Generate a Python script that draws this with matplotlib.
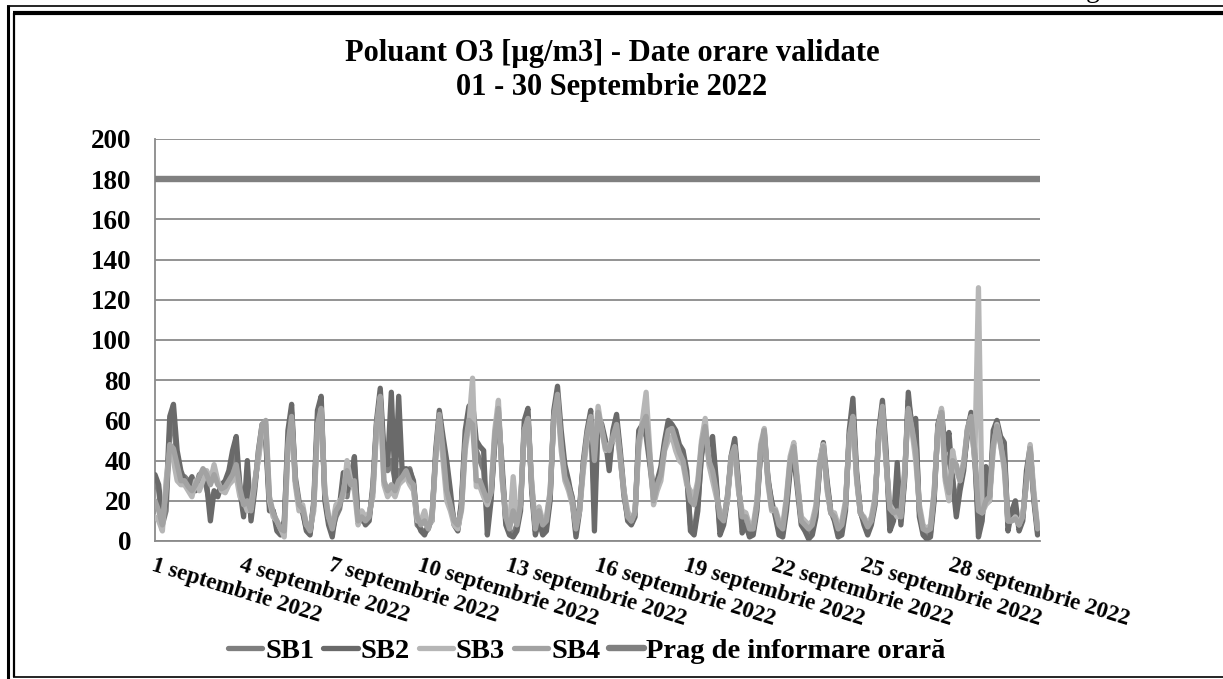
import matplotlib
matplotlib.use("Agg")
import matplotlib.pyplot as plt
from matplotlib.lines import Line2D
import pandas as pd

# valori la fiecare 3 ore (00, 03, ..., 21), o linie pe zi
sb1_zile = [
    [30, 25, 8, 15, 55, 60, 40, 32], [32, 30, 28, 27, 33, 34, 26, 18], [24, 24, 27, 28, 33, 40, 45, 28],
    [15, 30, 12, 28, 42, 56, 52, 18], [15, 8, 5, 10, 50, 64, 32, 20], [14, 6, 4, 18, 60, 68, 22, 10],
    [5, 12, 16, 28, 22, 35, 38, 12], [10, 10, 12, 25, 58, 72, 40, 35], [40, 30, 35, 30, 34, 36, 28, 8],
    [6, 4, 6, 12, 42, 62, 48, 30], [20, 10, 6, 18, 50, 62, 60, 45], [40, 35, 10, 22, 48, 62, 38, 10],
    [5, 3, 8, 18, 56, 62, 28, 5], [12, 5, 8, 22, 62, 72, 50, 35], [28, 22, 5, 18, 38, 52, 60, 20],
    [58, 55, 48, 40, 52, 60, 42, 22], [12, 9, 14, 50, 56, 52, 38, 22], [28, 35, 48, 56, 55, 52, 45, 42],
    [32, 8, 5, 18, 42, 52, 45, 48], [28, 6, 10, 22, 40, 48, 28, 8], [10, 4, 5, 18, 44, 52, 32, 18],
    [14, 5, 4, 18, 38, 45, 28, 10], [7, 3, 5, 14, 36, 46, 28, 14], [12, 4, 5, 18, 52, 66, 32, 14],
    [10, 5, 10, 20, 52, 66, 40, 12], [12, 25, 10, 32, 70, 58, 55, 15], [5, 3, 4, 22, 56, 62, 42, 40],
    [32, 15, 28, 38, 52, 60, 40, 10], [12, 30, 22, 50, 58, 50, 45, 8], [12, 15, 8, 12, 30, 45, 22, 5],
]
sb2_zile = [
    [33, 28, 10, 20, 62, 68, 45, 35], [30, 28, 32, 25, 30, 35, 28, 10], [25, 22, 28, 30, 35, 45, 52, 25],
    [12, 40, 10, 25, 45, 58, 50, 15], [15, 5, 3, 8, 55, 68, 30, 18], [15, 5, 3, 20, 65, 72, 20, 8],
    [2, 15, 18, 34, 25, 30, 42, 10], [12, 8, 10, 28, 60, 76, 45, 38], [74, 28, 72, 32, 36, 35, 30, 10],
    [5, 3, 8, 10, 45, 65, 52, 40], [25, 8, 5, 20, 55, 67, 69, 50], [47, 45, 3, 20, 50, 65, 35, 8],
    [3, 2, 5, 15, 60, 66, 25, 3], [10, 3, 5, 20, 65, 77, 55, 38], [30, 20, 2, 15, 40, 55, 65, 5],
    [62, 58, 50, 35, 55, 63, 45, 25], [10, 8, 12, 55, 58, 55, 40, 25], [30, 37, 50, 60, 58, 55, 48, 45],
    [35, 5, 3, 15, 45, 50, 48, 52], [30, 3, 8, 20, 42, 51, 30, 4], [8, 2, 3, 15, 45, 54, 30, 20],
    [12, 3, 2, 15, 35, 42, 25, 8], [5, 1, 3, 12, 38, 49, 30, 15], [10, 2, 3, 15, 55, 71, 35, 15],
    [8, 3, 8, 18, 55, 70, 45, 5], [10, 39, 8, 30, 74, 55, 61, 12], [3, 1, 2, 20, 58, 65, 45, 54],
    [30, 12, 25, 35, 55, 64, 45, 2], [10, 37, 20, 55, 60, 52, 49, 5], [15, 20, 5, 10, 35, 47, 20, 3],
]
sb3_zile = [
    [12, 10, 5, 30, 45, 40, 30, 28], [28, 25, 22, 30, 25, 30, 35, 30], [38, 30, 25, 24, 28, 30, 32, 22],
    [20, 15, 18, 30, 40, 55, 58, 20], [12, 10, 6, 2, 45, 60, 28, 15], [18, 8, 6, 15, 55, 65, 25, 12],
    [8, 18, 20, 22, 40, 30, 25, 8], [15, 12, 14, 22, 55, 70, 28, 22], [25, 22, 28, 30, 32, 28, 25, 10],
    [10, 15, 8, 10, 40, 60, 40, 20], [15, 8, 6, 15, 45, 58, 81, 27], [27, 22, 18, 25, 55, 70, 30, 12],
    [8, 32, 10, 20, 55, 60, 30, 8], [17, 10, 12, 25, 60, 70, 45, 30], [25, 18, 8, 15, 35, 50, 58, 45],
    [67, 55, 45, 48, 50, 55, 40, 25], [15, 10, 15, 45, 60, 74, 45, 18], [25, 30, 45, 50, 52, 45, 40, 38],
    [28, 25, 22, 30, 50, 61, 38, 30], [22, 15, 12, 20, 40, 45, 25, 15], [14, 8, 8, 20, 48, 56, 28, 15],
    [16, 10, 8, 22, 42, 49, 30, 12], [10, 8, 10, 18, 40, 48, 25, 14], [14, 8, 10, 20, 50, 60, 30, 14],
    [12, 8, 12, 22, 50, 65, 38, 18], [15, 12, 14, 35, 65, 55, 40, 18], [8, 6, 8, 25, 55, 66, 30, 20],
    [45, 35, 30, 40, 55, 60, 40, 126], [14, 18, 20, 45, 58, 48, 35, 10], [10, 12, 8, 14, 28, 48, 25, 7],
]
sb4_zile = [
    [20, 15, 8, 25, 48, 46, 38, 30], [30, 27, 25, 28, 32, 36, 33, 28], [33, 28, 26, 27, 30, 33, 38, 26],
    [18, 20, 15, 28, 44, 58, 60, 22], [14, 10, 6, 5, 48, 62, 30, 18], [16, 8, 5, 18, 58, 66, 24, 12],
    [6, 15, 18, 25, 35, 28, 30, 10], [12, 10, 12, 25, 58, 72, 30, 25], [28, 25, 30, 32, 35, 30, 28, 12],
    [8, 10, 6, 12, 42, 63, 45, 25], [18, 10, 8, 16, 48, 60, 58, 30], [30, 25, 20, 24, 52, 66, 32, 12],
    [6, 15, 8, 18, 55, 61, 28, 6], [15, 8, 10, 24, 62, 73, 48, 32], [27, 20, 6, 16, 38, 53, 62, 40],
    [64, 56, 46, 45, 52, 58, 42, 24], [12, 10, 14, 50, 58, 62, 42, 20], [28, 33, 46, 55, 56, 50, 44, 40],
    [30, 20, 18, 28, 48, 57, 40, 35], [25, 12, 10, 22, 42, 47, 27, 12], [12, 6, 6, 18, 46, 55, 30, 16],
    [15, 8, 6, 20, 40, 47, 28, 10], [8, 6, 8, 16, 38, 47, 27, 14], [12, 6, 8, 18, 52, 62, 32, 14],
    [11, 7, 10, 20, 52, 67, 40, 16], [14, 15, 12, 33, 66, 56, 45, 16], [6, 5, 6, 24, 56, 64, 32, 24],
    [40, 38, 30, 38, 56, 62, 42, 15], [14, 20, 22, 48, 57, 48, 38, 10], [10, 11, 8, 12, 30, 46, 22, 6],
]
prag = 180  # prag de informare orara
zile_etichete = [1, 4, 7, 10, 13, 16, 19, 22, 25, 28]

serii = {
    "SB1": (sum(sb1_zile, []), "#7f7f7f"),
    "SB2": (sum(sb2_zile, []), "#6a6a6a"),
    "SB3": (sum(sb3_zile, []), "#b6b6b6"),
    "SB4": (sum(sb4_zile, []), "#a2a2a2"),
}
ore = pd.date_range("2022-09-01 00:00", periods=len(serii["SB1"][0]), freq="3h")
start, stop = pd.Timestamp("2022-09-01 00:00"), pd.Timestamp("2022-09-30 23:00")

font = "Liberation Serif"
plt.rcParams["font.family"] = [font, "DejaVu Serif"]
plt.rcParams["font.weight"] = "bold"

W, H = 1223, 679
fig = plt.figure(figsize=(W / 100, H / 100), dpi=100)
ax = fig.add_axes([155 / W, 1 - 541 / H, 885 / W, 402 / H])

for nume, (val, cul) in serii.items():
    ax.plot(ore, val, color=cul, lw=3.8, solid_joinstyle="round", solid_capstyle="round", label=nume, zorder=3)
ax.plot([start, stop], [prag, prag], color="#808080", lw=4.6, solid_capstyle="round",
        label="Prag de informare orară", zorder=4)

ax.set_xlim(start, stop)
ax.set_ylim(0, 200)
ax.set_yticks(range(0, 201, 20))
ax.yaxis.grid(True, color="#8a8a8a", lw=1.3)
ax.set_axisbelow(True)
for s in ["top", "right"]:
    ax.spines[s].set_visible(False)
for s in ["left", "bottom"]:
    ax.spines[s].set_color("#8a8a8a")
    ax.spines[s].set_linewidth(1.3)

ticks = [pd.Timestamp(2022, 9, d) for d in zile_etichete]
ax.set_xticks(ticks)
ax.set_xticklabels([f"{d} septembrie 2022" for d in zile_etichete], rotation=-17,
                   ha="left", va="top", rotation_mode="anchor", fontsize=16.5, fontweight="bold")
ax.tick_params(axis="x", length=0, pad=10)
ax.tick_params(axis="y", length=0, pad=17, labelsize=19.5)
for t in ax.get_yticklabels():
    t.set_fontweight("bold")

fig.text(612 / W, 1 - 53 / H, "Poluant O3 [µg/m3] - Date orare validate", ha="center", va="center",
         fontsize=22, fontweight="bold")
fig.text(612 / W, 1 - 88 / H, "01 - 30 Septembrie 2022", ha="center", va="center",
         fontsize=22, fontweight="bold")

leg = fig.legend(loc="center", bbox_to_anchor=(587 / W, 1 - 651 / H), ncol=5, frameon=False,
                 handlelength=1.2, handletextpad=0.1, columnspacing=0.32,
                 prop={"family": font, "weight": "bold", "size": 20.5})

# chenar dublu
def linie(x0, y0, x1, y1, lw):
    fig.add_artist(Line2D([x0 / W, x1 / W], [1 - y0 / H, 1 - y1 / H], color="black", lw=lw,
                          transform=fig.transFigure, solid_capstyle="butt"))

linie(7, 5.5, W, 5.5, 1.2)
linie(8, 5, 8, H, 2.2)
linie(13, 13, W, 13, 3.0)
linie(13.5, 13, 13.5, 677, 1.6)
linie(13, 677, W, 677, 1.2)
fig.text(1093 / W, 1 + 3 / H, "g", ha="center", va="baseline", fontsize=20, fontweight="normal")

fig.savefig("out.png", dpi=100, facecolor="white")
